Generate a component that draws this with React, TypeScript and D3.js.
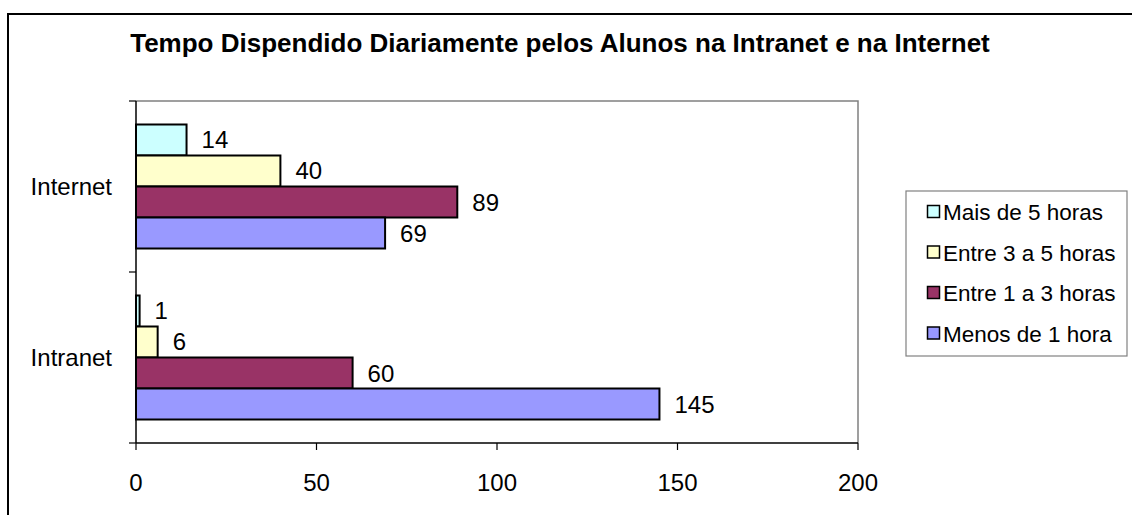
import React from 'react';
import * as d3 from 'd3';

const categories = ['Internet', 'Intranet'];
const seriesNames = ['Mais de 5 horas', 'Entre 3 a 5 horas', 'Entre 1 a 3 horas', 'Menos de 1 hora'];
const seriesColors = ['#CCFFFF', '#FFFFCC', '#993366', '#9999FF'];
// values per series, in category order [Internet, Intranet]
const maisDe5 = [14, 1];
const entre3a5 = [40, 6];
const entre1a3 = [89, 60];
const menosDe1 = [69, 145];
const seriesValues = [maisDe5, entre3a5, entre1a3, menosDe1];
const xTicks = [0, 50, 100, 150, 200];

const title = 'Tempo Dispendido Diariamente pelos Alunos na Intranet e na Internet';
const font = 'Arial, "Liberation Sans", sans-serif';

const App = () => {
  const x = d3.scaleLinear().domain([0, 200]).range([136, 858]);
  const y = d3.scaleBand().domain(categories).range([101, 443]);
  const inner = d3.scaleBand()
    .domain(seriesNames)
    .range([0, y.bandwidth()])
    .paddingInner(0)
    .paddingOuter(0.758);

  const plotTop = 101;
  const plotBottom = 443;
  const plotLeft = x(0);
  const plotRight = x(200);
  const yTicks = [plotTop, plotTop + y.bandwidth(), plotBottom];

  return (
    <svg width={1132} height={515} style={{ position: 'absolute', left: 0, top: 0 }}>
      <rect x={0} y={0} width={1132} height={515} fill="#fff" />
      {/* outer chart frame */}
      <rect x={8} y={14} width={1200} height={600} fill="none" stroke="#000" strokeWidth={2} />

      <text x={560} y={52} textAnchor="middle" fontFamily={font} fontWeight="bold" fontSize={26}>
        {title}
      </text>

      {/* plot border */}
      <path d={`M${plotLeft},${plotTop}H${plotRight}V${plotBottom}`} fill="none" stroke="#808080" strokeWidth={1.5} />

      {/* bars */}
      {categories.map((c, ci) => (
        <g key={c}>
          {seriesNames.map((s, si) => {
            const v = seriesValues[si][ci];
            const by = (y(c) as number) + (inner(s) as number);
            const bh = inner.bandwidth();
            return (
              <g key={s}>
                <rect x={x(0)} y={by} width={x(v) - x(0)} height={bh}
                  fill={seriesColors[si]} stroke="#000" strokeWidth={2} />
                <text x={x(v) + 15} y={by + bh / 2 + 8.5} fontFamily={font} fontSize={24}>{v}</text>
              </g>
            );
          })}
          <text x={112} y={(y(c) as number) + y.bandwidth() / 2 + 8.5} textAnchor="end"
            fontFamily={font} fontSize={24}>{c}</text>
        </g>
      ))}

      {/* axes */}
      <line x1={plotLeft} x2={plotLeft} y1={plotTop} y2={plotBottom} stroke="#000" strokeWidth={1.5} />
      {yTicks.map((t, i) => (
        <line key={i} x1={plotLeft - 7} x2={plotLeft} y1={t} y2={t} stroke="#000" strokeWidth={1.2} />
      ))}
      <line x1={plotLeft} x2={plotRight} y1={plotBottom} y2={plotBottom} stroke="#000" strokeWidth={1.5} />
      {xTicks.map(t => (
        <g key={t}>
          <line x1={x(t)} x2={x(t)} y1={plotBottom} y2={plotBottom + 7} stroke="#000" strokeWidth={1.2} />
          <text x={x(t)} y={491} textAnchor="middle" fontFamily={font} fontSize={24}>{t}</text>
        </g>
      ))}

      {/* legend */}
      <rect x={906} y={191} width={221} height={165} fill="#fff" stroke="#808080" strokeWidth={1.2} />
      {seriesNames.map((s, i) => {
        const cy = 212 + i * 40.5;
        return (
          <g key={s}>
            <rect x={927.5} y={cy - 6.5} width={12} height={12} fill={seriesColors[i]} stroke="#000" strokeWidth={1.5} />
            <text x={943} y={cy + 8} fontFamily={font} fontSize={22.5}>{s}</text>
          </g>
        );
      })}
    </svg>
  );
};

export default App;
